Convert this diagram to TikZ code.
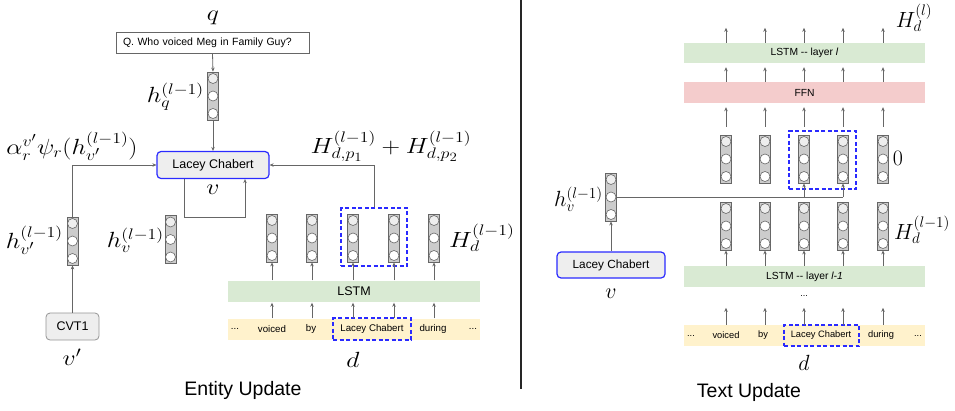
\documentclass[tikz,border=0pt]{standalone}
\usepackage{fontspec}
\setmainfont{Liberation Sans}
\usetikzlibrary{arrows.meta}
\definecolor{lgray}{HTML}{666666}
\definecolor{vfill}{HTML}{CCCCCC}
\definecolor{ctop}{HTML}{EEEEEE}
\definecolor{boxfill}{HTML}{EEEEEE}
\definecolor{lstmgreen}{HTML}{D9EAD3}
\definecolor{tokyellow}{HTML}{FFF2CC}
\definecolor{ffnred}{HTML}{F4CCCC}
\definecolor{dblue}{HTML}{2A2AFF}
\newcommand{\vecn}[3]{%
  \node[vecbox] (#1) at (#2,#3) {};
  \filldraw[circtop] ([yshift=17.5pt]#1.center) circle (5pt);
  \filldraw[circ] (#1.center) circle (5pt);
  \filldraw[circ] ([yshift=-17.5pt]#1.center) circle (5pt);
}
\newcommand{\Lstretch}[1]{\scalebox{1.24}[1.06]{#1}}
\newcommand{\Rstretch}[1]{\scalebox{1.06}{#1}}
\begin{document}
\begin{tikzpicture}[x=1pt,y=-1pt,
  vecbox/.style={draw=lgray, fill=vfill, minimum width=11pt, minimum height=48pt, inner sep=0pt, line width=0.8pt},
  circ/.style={draw=lgray, fill=white, line width=0.6pt},
  circtop/.style={draw=lgray, fill=ctop, line width=0.6pt},
  arr/.style={draw=lgray, line width=0.8pt, -{Stealth[length=4pt,width=3.5pt]}},
  ln/.style={draw=lgray, line width=0.8pt},
  mlbl/.style={font=\fontsize{20.74}{24}\selectfont, inner sep=0pt},
  entbox/.style={draw=dblue, fill=boxfill, rounded corners=4pt, line width=1.2pt, inner sep=0pt},
  dbox/.style={draw=dblue, line width=1.2pt, dash pattern=on 4pt off 2.5pt},
  band/.style={minimum width=241pt, minimum height=21pt, inner sep=0pt},
  tokL/.style={font=\fontsize{9.7}{11}\selectfont, inner sep=0pt},
  tokR/.style={font=\fontsize{9.3}{11}\selectfont, inner sep=0pt},
  ttl/.style={font=\fontsize{19.5}{22}\selectfont, inner sep=0pt}
]
\useasboundingbox (0,0) rectangle (955,410);

% separator
\draw[line width=1.5pt, draw=black!85] (521,0) -- (521,389);

% ================= LEFT: Entity Update =================
\node[mlbl] (qlbl) at (213,18) {\Lstretch{$q$}};
\node[draw=lgray, fill=white, line width=0.8pt, text width=179pt, inner xsep=7pt, inner ysep=0pt,
      minimum height=21pt, align=left, font=\fontsize{10.5}{12}\selectfont] (qbox) at (212.5,42.5)
      {Q. Who voiced Meg in Family Guy?};
\vecn{hq}{213}{96}
\node[mlbl, anchor=east] (hqlbl) at (204,97) {\Lstretch{$h_q^{(l-1)}$}};
\node[entbox, minimum width=112pt, minimum height=27pt, font=\fontsize{12.5}{14}\selectfont] (lacL) at (213,165) {Lacey Chabert};
\node[mlbl] (vlblL) at (213,190) {\Lstretch{$v$}};
\draw[arr] (qbox.south) -- (hq.north);
\draw[arr] (hq.south) -- (lacL.north);

\node[mlbl] (alpha) at (72,146) {\Lstretch{$\alpha_r^{v'}\psi_r(h_{v'}^{(l-1)})$}};
\node[mlbl] (hsum) at (391,146) {\Lstretch{$H_{d,p_1}^{(l-1)}+H_{d,p_2}^{(l-1)}$}};

\vecn{hvp}{72.5}{241}
\node[mlbl, anchor=east] (hvplbl) at (63,240) {\Lstretch{$h_{v'}^{(l-1)}$}};
\node[draw=lgray!70, fill=boxfill, rounded corners=4pt, line width=0.8pt, minimum width=53pt, minimum height=27pt,
      inner sep=0pt, font=\fontsize{12.5}{14}\selectfont] (cvt) at (72.5,326.5) {CVT1};
\node[mlbl] (vplbl) at (72,357) {\Lstretch{$v'$}};
\draw[arr] (cvt.north) -- (hvp.south);
\draw[arr] (hvp.north) |- (lacL.west);

\vecn{hv}{170.5}{239.5}
\node[mlbl, anchor=east] (hvlbl) at (164,240) {\Lstretch{$h_v^{(l-1)}$}};

\coordinate (loopA) at (184,217);
\coordinate (loopB) at (245,217);
\draw[arr] (lacL.south -| loopA) -- (loopA) -- (loopB) -- (lacL.south -| loopB);

\vecn{L1}{272}{238}
\vecn{L2}{312}{238}
\vecn{L3}{353}{238}
\vecn{L4}{394}{238}
\vecn{L5}{434}{238}
\node[dbox, minimum width=66pt, minimum height=58pt, inner sep=0pt] (dbl) at (374,237) {};
\node[mlbl, anchor=west] (hdlblL) at (449,238) {\Lstretch{$H_d^{(l-1)}$}};
\draw[arr] (dbl.north) |- (lacL.east);

\node[band, minimum width=252pt, fill=lstmgreen, font=\fontsize{12.5}{14}\selectfont] (lstmL) at (354,291) {LSTM};
\node[band, minimum width=252pt, fill=tokyellow] (tokbL) at (354,329) {};
\node[tokL] (tl0) at (235,329) {...};
\node[tokL] (tl1) at (272,329) {voiced};
\node[tokL] (tl2) at (311,329) {by};
\node[tokL] (tl3) at (372,329) {Lacey Chabert};
\node[tokL] (tl4) at (433,329) {during};
\node[tokL] (tl5) at (473,329) {...};
\node[dbox, minimum width=78pt, minimum height=22pt, inner sep=0pt] (dtl) at (372,329) {};
\foreach \v in {L1,L2,L3,L4,L5}{
  \draw[arr] (\v.south |- lstmL.north) -- (\v.south);
  \draw[arr] (\v.south |- tokbL.north) -- ([yshift=-1pt]\v.south |- lstmL.south);
}
\node[mlbl] (dlblL) at (353,360) {\Lstretch{$d$}};
\node[ttl] (entttl) at (243,390) {Entity Update};

% ================= RIGHT: Text Update =================
\node[mlbl] (hdl) at (914,18) {\Rstretch{$H_d^{(l)}$}};
\node[band, fill=lstmgreen, minimum height=20pt, font=\fontsize{10.3}{12}\selectfont] (lstml) at (804.5,53) {LSTM -{}- layer \textit{l}};
\node[band, fill=ffnred, font=\fontsize{10.3}{12}\selectfont] (ffn) at (804.5,92.5) {FFN};

\vecn{U1}{726}{159}
\vecn{U2}{765}{159}
\vecn{U3}{804}{159}
\vecn{U4}{843}{159}
\vecn{U5}{883}{159}
\node[dbox, minimum width=67pt, minimum height=58pt, inner sep=0pt] (dbr) at (822.5,160) {};
\node[mlbl] (zero) at (898,158) {\Rstretch{$0$}};

\vecn{D1}{726}{226}
\vecn{D2}{765}{226}
\vecn{D3}{804}{226}
\vecn{D4}{843}{226}
\vecn{D5}{883}{226}
\node[mlbl, anchor=west] (hdlblR) at (894,230) {\Rstretch{$H_d^{(l-1)}$}};

\node[band, fill=lstmgreen, font=\fontsize{10.3}{12}\selectfont] (lstmm) at (804.5,276.5) {LSTM -{}- layer \textit{l-1}};
\node[font=\fontsize{9}{10}\selectfont, inner sep=0pt] (dots) at (804,296) {...};
\node[band, fill=tokyellow] (tokbR) at (804.5,335.5) {};
\node[tokR] (tr0) at (691,336) {...};
\node[tokR] (tr1) at (726,335.5) {voiced};
\node[tokR] (tr2) at (763,335.5) {by};
\node[tokR] (tr3) at (821,335.5) {Lacey Chabert};
\node[tokR] (tr4) at (881,335.5) {during};
\node[tokR] (tr5) at (918,336) {...};
\node[dbox, minimum width=75pt, minimum height=21pt, inner sep=0pt] (dtr) at (821.5,335.5) {};
\node[mlbl] (dlblR) at (804,363) {\Rstretch{$d$}};

\foreach \v in {U1,U2,U3,U4,U5}{
  \draw[arr] (\v.south |- lstml.north) -- ++(0,-15);
  \draw[arr] (\v.south |- ffn.north) -- ([yshift=-4pt]\v.south |- lstml.south);
  \draw[arr] ([yshift=8pt]\v.north) -- ([yshift=-4pt]\v.north |- ffn.south);
}
\foreach \v in {D1,D2,D3,D4,D5}{
  \draw[arr] (\v.south |- lstmm.north) -- (\v.south);
  \draw[arr] (\v.south |- tokbR.north) -- ++(0,-17);
}

\vecn{hvr}{611}{197}
\node[mlbl, anchor=east] (hvrlbl) at (603,199) {\Rstretch{$h_v^{(l-1)}$}};
\node[entbox, minimum width=108pt, minimum height=26pt, font=\fontsize{11.8}{14}\selectfont] (lacR) at (611,265) {Lacey Chabert};
\node[mlbl] (vlblR) at (611,294) {\Rstretch{$v$}};
\draw[arr] (lacR.north) -- (hvr.south);
\draw[ln] (hvr.east) -- (U4.south |- hvr.east);
\draw[arr] (U3.south |- hvr.east) -- (U3.south);
\draw[arr] (U4.south |- hvr.east) -- (U4.south);

\node[ttl] (txtttl) at (749,392) {Text Update};
\end{tikzpicture}
\end{document}
